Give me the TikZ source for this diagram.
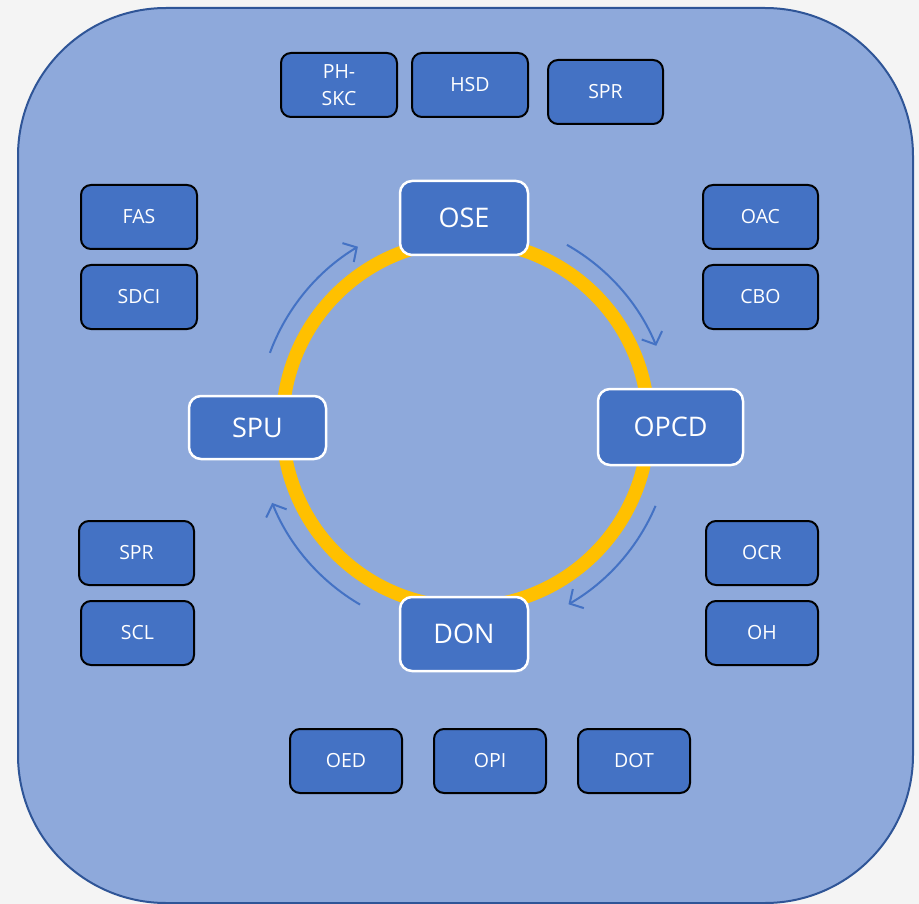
\documentclass[tikz,border=0pt]{standalone}
\usepackage{fontspec}
\setmainfont{Open Sans}
\usetikzlibrary{arrows.meta}
\definecolor{pagebg}{HTML}{F4F4F4}
\definecolor{panelfill}{HTML}{8EA9DB}
\definecolor{paneledge}{HTML}{2F5597}
\definecolor{nodeblue}{HTML}{4472C4}
\definecolor{ringcol}{HTML}{FFC000}
\tikzset{
  panel/.style={fill=panelfill, draw=paneledge, line width=2pt, rounded corners=148pt},
  mainbox/.style={rectangle, draw=white, line width=2.5pt, fill=nodeblue, rounded corners=12pt,
    text=white, font=\fontsize{27}{32}\selectfont, inner sep=0pt},
  smallbox/.style={rectangle, draw=black, line width=2pt, fill=nodeblue, rounded corners=10pt,
    text=white, font=\fontsize{19.5}{27}\selectfont, inner sep=0pt, align=center,
    minimum height=64pt},
  ringline/.style={draw=ringcol, line width=13.5pt},
  flow/.style={draw=nodeblue, line width=2pt, -{Straight Barb[length=10pt,width=22pt,line width=2pt]}}
}
\begin{document}
\begin{tikzpicture}[x=1pt,y=-1pt]
\fill[pagebg] (0,0) rectangle (919,904);
\useasboundingbox (0,0) rectangle (919,904);
\draw[panel] (18,8) rectangle (913,903);

\coordinate (c) at (465.5,424);
\draw[ringline] (c) circle[radius=183pt];

\begin{scope}[shift={(465,425)}, x=1pt, y=1pt]
  \coordinate (a1) at (60.5:207);
  \coordinate (a2) at (-23:207);
  \coordinate (a3) at (239.7:208);
  \coordinate (a4) at (159.7:208);
  \draw[flow] (a1) arc[start angle=60.5, end angle=22.5, radius=207];
  \draw[flow] (a2) arc[start angle=-23, end angle=-60, radius=207];
  \draw[flow] (a3) arc[start angle=239.7, end angle=202, radius=208];
  \draw[flow] (a4) arc[start angle=159.7, end angle=121, radius=208];
\end{scope}

\node[mainbox, minimum width=128pt, minimum height=74pt] (ose) at (464,218) {OSE};
\node[mainbox, minimum width=137pt, minimum height=63pt] (spu) at (257.5,427.5) {SPU};
\node[mainbox, minimum width=145pt, minimum height=76pt] (opcd) at (670.5,427) {OPCD};
\node[mainbox, minimum width=128pt, minimum height=74pt] (don) at (464,634) {DON};

\node[smallbox, minimum width=116pt] (phskc) at (339,85) {PH-\\SKC};
\node[smallbox, minimum width=116pt] (hsd) at (470,85) {HSD};
\node[smallbox, minimum width=115pt] (sprt) at (605.5,92) {SPR};
\node[smallbox, minimum width=116pt] (fas) at (139,217) {FAS};
\node[smallbox, minimum width=116pt] (sdci) at (139,297) {SDCI};
\node[smallbox, minimum width=115pt] (oac) at (760.5,217) {OAC};
\node[smallbox, minimum width=115pt] (cbo) at (760.5,297) {CBO};
\node[smallbox, minimum width=115pt] (sprl) at (136.5,553) {SPR};
\node[smallbox, minimum width=113pt] (scl) at (137.5,633) {SCL};
\node[smallbox, minimum width=112pt] (ocr) at (762,553) {OCR};
\node[smallbox, minimum width=112pt] (oh) at (762,633) {OH};
\node[smallbox, minimum width=112pt] (oed) at (346,761) {OED};
\node[smallbox, minimum width=112pt] (opi) at (490,761) {OPI};
\node[smallbox, minimum width=112pt] (dot) at (634,761) {DOT};
\end{tikzpicture}
\end{document}
